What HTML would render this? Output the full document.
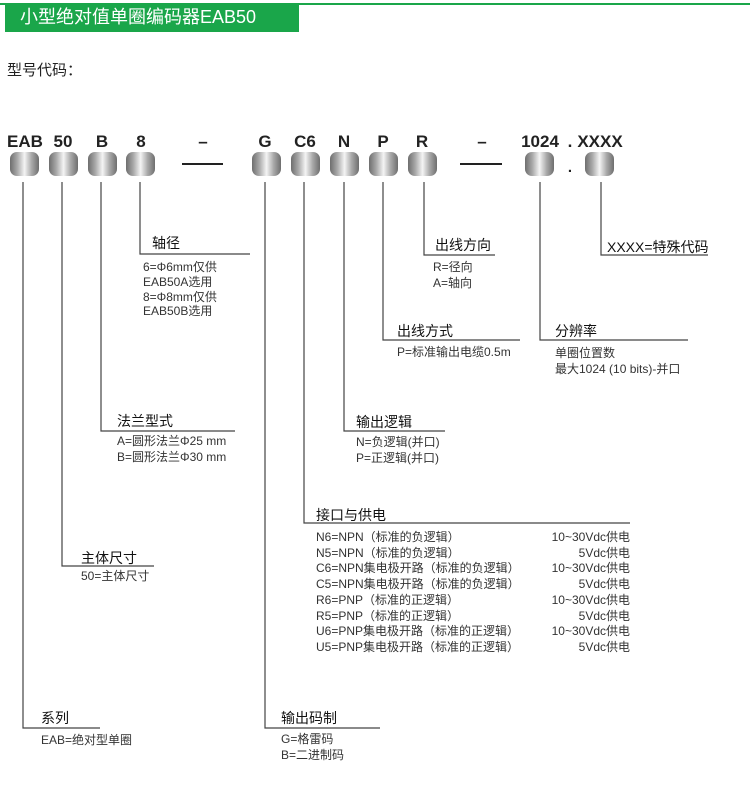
<!DOCTYPE html>
<html><head><meta charset="utf-8"><style>
body{margin:0;width:750px;height:792px;background:#fff;position:relative;overflow:hidden;font-family:"Liberation Sans","Noto Sans CJK SC",sans-serif;color:#222}
.t{position:absolute;white-space:nowrap;line-height:1}
.h{font-size:14px;color:#111}
.d{font-size:12px;color:#333}
.c{font-size:17px;font-weight:bold;color:#222;transform:translateX(-50%)}
.p{position:absolute;top:152px;width:29px;height:24px;border-radius:7px;background:linear-gradient(90deg,#6e6e6e 0%,#a8a8a8 25%,#f4f4f4 50%,#a8a8a8 75%,#6e6e6e 100%)}
.r{text-align:right}
</style></head><body>
<div style="position:absolute;left:0;top:3px;width:750px;height:2px;background:#1aa64a"></div>
<div style="position:absolute;left:5px;top:4px;width:294px;height:28px;background:#1aa64a"></div>
<div class="t" style="left:20px;top:8px;font-size:18px;color:#fff">小型绝对值单圈编码器EAB50</div>
<div class="t" style="left:7px;top:63px;font-size:15px;color:#222">型号代码：</div>

<div class="t c" style="left:25px;top:133px">EAB</div>
<div class="t c" style="left:63px;top:133px">50</div>
<div class="t c" style="left:102px;top:133px">B</div>
<div class="t c" style="left:141px;top:133px">8</div>
<div class="t c" style="left:203px;top:133px">–</div>
<div class="t c" style="left:265px;top:133px">G</div>
<div class="t c" style="left:305px;top:133px">C6</div>
<div class="t c" style="left:344px;top:133px">N</div>
<div class="t c" style="left:383px;top:133px">P</div>
<div class="t c" style="left:422px;top:133px">R</div>
<div class="t c" style="left:482px;top:133px">–</div>
<div class="t c" style="left:540px;top:133px">1024</div>
<div class="t c" style="left:570px;top:133px">.</div>
<div class="t c" style="left:600px;top:133px">XXXX</div>
<div class="t c" style="left:570px;top:160px;font-size:15px">.</div>

<div class="p" style="left:10px"></div>
<div class="p" style="left:49px"></div>
<div class="p" style="left:88px"></div>
<div class="p" style="left:126px"></div>
<div class="p" style="left:252px"></div>
<div class="p" style="left:291px"></div>
<div class="p" style="left:330px"></div>
<div class="p" style="left:369px"></div>
<div class="p" style="left:408px"></div>
<div class="p" style="left:525px"></div>
<div class="p" style="left:585px"></div>

<svg width="750" height="792" style="position:absolute;left:0;top:0" fill="none" stroke="#444" stroke-width="1.2">
<path d="M182 164H223M460 164H502" stroke="#222" stroke-width="2"/>
<path d="M23 182V728H100"/>
<path d="M62 182V566H154"/>
<path d="M101 182V431H235"/>
<path d="M140 182V254H250"/>
<path d="M265 182V728H380"/>
<path d="M304 182V523H630"/>
<path d="M344 182V431H445"/>
<path d="M383 182V340H520"/>
<path d="M424 182V255H495"/>
<path d="M540 182V340H688"/>
<path d="M601 182V255H708"/>
</svg>

<div class="t h" style="left:152px;top:236px">轴径</div>
<div class="t d" style="left:143px;top:260px;line-height:14.8px">6=Φ6mm仅供<br>EAB50A选用<br>8=Φ8mm仅供<br>EAB50B选用</div>

<div class="t h" style="left:117px;top:414px">法兰型式</div>
<div class="t d" style="left:117px;top:434px;line-height:15.5px">A=圆形法兰Φ25 mm<br>B=圆形法兰Φ30 mm</div>

<div class="t h" style="left:81px;top:551px">主体尺寸</div>
<div class="t d" style="left:81px;top:570px">50=主体尺寸</div>

<div class="t h" style="left:41px;top:711px">系列</div>
<div class="t d" style="left:41px;top:734px">EAB=绝对型单圈</div>

<div class="t h" style="left:281px;top:711px">输出码制</div>
<div class="t d" style="left:281px;top:732px;line-height:15.5px">G=格雷码<br>B=二进制码</div>

<div class="t h" style="left:316px;top:508px">接口与供电</div>
<div class="t d" style="left:316px;top:530px;line-height:15.7px">N6=NPN（标准的负逻辑）<br>N5=NPN（标准的负逻辑）<br>C6=NPN集电极开路（标准的负逻辑）<br>C5=NPN集电极开路（标准的负逻辑）<br>R6=PNP（标准的正逻辑）<br>R5=PNP（标准的正逻辑）<br>U6=PNP集电极开路（标准的正逻辑）<br>U5=PNP集电极开路（标准的正逻辑）</div>
<div class="t d r" style="right:120px;top:530px;line-height:15.7px">10~30Vdc供电<br>5Vdc供电<br>10~30Vdc供电<br>5Vdc供电<br>10~30Vdc供电<br>5Vdc供电<br>10~30Vdc供电<br>5Vdc供电</div>

<div class="t h" style="left:356px;top:415px">输出逻辑</div>
<div class="t d" style="left:356px;top:435px;line-height:15.5px">N=负逻辑(并口)<br>P=正逻辑(并口)</div>

<div class="t h" style="left:397px;top:324px">出线方式</div>
<div class="t d" style="left:397px;top:346px">P=标准输出电缆0.5m</div>

<div class="t h" style="left:435px;top:238px">出线方向</div>
<div class="t d" style="left:433px;top:260px;line-height:15.5px">R=径向<br>A=轴向</div>

<div class="t h" style="left:555px;top:324px">分辨率</div>
<div class="t d" style="left:555px;top:346px;line-height:15.5px">单圈位置数<br>最大1024 (10 bits)-并口</div>

<div class="t h" style="left:607px;top:240px;font-size:14px">XXXX=特殊代码</div>
</body></html>
